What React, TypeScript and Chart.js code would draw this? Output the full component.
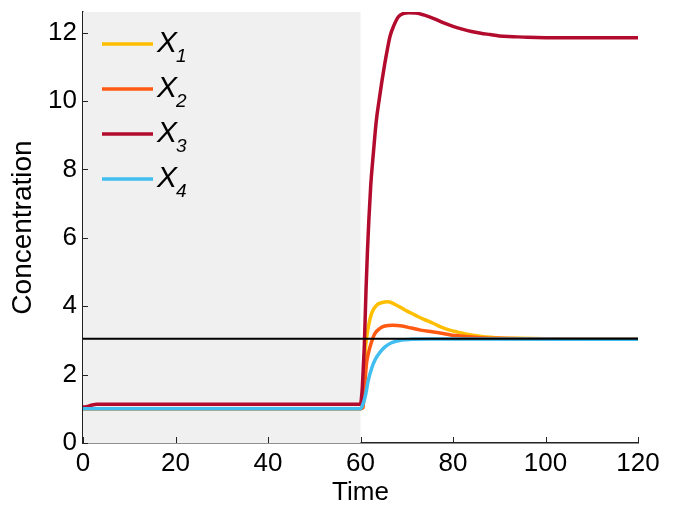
import React, { useEffect, useRef } from 'react';
import { Chart, registerables } from 'chart.js';

Chart.register(...registerables);

// ---- data ----
const xTickValues = [0, 20, 40, 60, 80, 100, 120];
const yTickValues = [0, 2, 4, 6, 8, 10, 12];
const seriesLetters = ['X', 'X', 'X', 'X'];
const seriesSubscripts = ['1', '2', '3', '4'];
const seriesColors = ['#FFBF00', '#FF5A14', '#B30B2D', '#41BDF0'];

const t1 = [0, 60, 60.5, 60.8, 61.1, 61.4, 61.7, 62.4, 63.5, 64.5, 66, 67.5, 69.6, 71.8, 73.6, 75.7, 77.2, 79.3, 81, 82.9, 84.4, 86.5, 88, 90, 94, 100, 120];
const x1 = [1.0, 1.0, 1.03, 1.8, 2.8, 3.15, 3.4, 3.79, 4.03, 4.1, 4.13, 4.05, 3.89, 3.74, 3.62, 3.5, 3.4, 3.3, 3.24, 3.18, 3.15, 3.11, 3.09, 3.07, 3.06, 3.05, 3.04];

const t2 = [0, 60, 60.5, 61, 61.3, 61.7, 62.4, 63.1, 64.2, 65.3, 67, 69, 71, 73, 75.5, 77.5, 79.5, 81.5, 84, 87, 90, 95, 120];
const x2 = [1.0, 1.0, 1.03, 1.84, 2.33, 2.62, 2.96, 3.2, 3.35, 3.42, 3.44, 3.42, 3.36, 3.3, 3.25, 3.21, 3.16, 3.13, 3.1, 3.07, 3.06, 3.05, 3.04];

const t3 = [0, 1, 2, 3, 60, 60.2, 60.4, 60.6, 60.8, 61, 61.2, 61.5, 61.8, 62.2, 62.8, 63.4, 64, 64.6, 65.2, 65.8, 66.4, 67.2, 68.2, 69.2, 70.5, 72, 74, 76, 78, 80, 82, 84, 86, 88, 90, 93, 96, 100, 120];
const x3 = [1.05, 1.07, 1.11, 1.13, 1.13, 1.3, 1.65, 2.2, 2.75, 3.6, 4.5, 5.6, 6.5, 7.5, 8.5, 9.4, 10.0, 10.55, 11.05, 11.5, 11.9, 12.2, 12.46, 12.55, 12.58, 12.57, 12.5, 12.4, 12.28, 12.18, 12.1, 12.03, 11.98, 11.94, 11.9, 11.88, 11.86, 11.85, 11.85];

const t4 = [0, 60, 60.3, 61, 61.7, 62.4, 63.1, 64.2, 65.3, 66.7, 68.9, 71, 75, 120];
const x4 = [1.0, 1.0, 1.06, 1.35, 1.84, 2.18, 2.42, 2.65, 2.81, 2.93, 3.01, 3.03, 3.04, 3.03];

const thresholdTime = [0, 120];
const thresholdValue = [3.05, 3.05];
const shadedUntil = 60;

const seriesTimes = [t1, t2, t3, t4];
const seriesValues = [x1, x2, x3, x4];

const FONT = '"Liberation Sans", Arial, sans-serif';

export default function App() {
  const ref = useRef<HTMLCanvasElement | null>(null);

  useEffect(() => {
    document.body.style.margin = '0';
    const canvas = ref.current;
    if (!canvas) return;

    const shadePlugin = {
      id: 'shade',
      beforeDatasetsDraw(chart: any) {
        const { ctx, chartArea, scales } = chart;
        const xEnd = scales.x.getPixelForValue(shadedUntil);
        ctx.save();
        ctx.fillStyle = '#F0F0F0';
        ctx.fillRect(chartArea.left, chartArea.top, xEnd - chartArea.left, chartArea.bottom - chartArea.top);
        ctx.restore();
      },
    };

    const decorPlugin = {
      id: 'decor',
      afterDraw(chart: any) {
        const { ctx, chartArea, scales } = chart;
        ctx.save();
        ctx.strokeStyle = '#222';
        ctx.lineWidth = 1;
        yTickValues.forEach((v) => {
          const y = Math.round(scales.y.getPixelForValue(v)) + 0.5;
          ctx.beginPath();
          ctx.moveTo(chartArea.left, y);
          ctx.lineTo(chartArea.left + 5, y);
          ctx.stroke();
        });
        xTickValues.forEach((v) => {
          const x = Math.round(scales.x.getPixelForValue(v)) + 0.5;
          ctx.beginPath();
          ctx.moveTo(x, chartArea.bottom);
          ctx.lineTo(x, chartArea.bottom - 6);
          ctx.stroke();
        });
        // legend
        const lx0 = chartArea.left + 19;
        const lx1 = chartArea.left + 70;
        seriesColors.forEach((c, i) => {
          const y = chartArea.top + 32 + i * 45;
          ctx.strokeStyle = c;
          ctx.lineWidth = 3.5;
          ctx.beginPath();
          ctx.moveTo(lx0, y);
          ctx.lineTo(lx1, y);
          ctx.stroke();
          ctx.fillStyle = '#000';
          ctx.textBaseline = 'alphabetic';
          ctx.textAlign = 'left';
          ctx.font = `italic 30px ${FONT}`;
          ctx.fillText(seriesLetters[i], lx1 + 4, y + 8);
          const w = ctx.measureText(seriesLetters[i]).width;
          ctx.font = `italic 19px ${FONT}`;
          ctx.fillText(seriesSubscripts[i], lx1 + 4 + w - 1, y + 18);
        });
        ctx.restore();
      },
    };

    const datasets: any[] = seriesValues.map((vals, i) => ({
      label: seriesLetters[i] + seriesSubscripts[i],
      data: vals.map((v, j) => ({ x: seriesTimes[i][j], y: v })),
      borderColor: seriesColors[i],
      backgroundColor: seriesColors[i],
      borderWidth: 3.5,
      pointRadius: 0,
      cubicInterpolationMode: 'monotone',
      order: 5 - i,
    }));
    datasets.push({
      label: 'threshold',
      data: thresholdValue.map((v, j) => ({ x: thresholdTime[j], y: v })),
      borderColor: '#000',
      borderWidth: 2,
      pointRadius: 0,
      order: 0,
    });

    const chart = new Chart(canvas, {
      type: 'line',
      data: { datasets },
      options: {
        animation: false,
        responsive: false,
        layout: { padding: { top: 12, right: 36, left: 0, bottom: 0 } },
        plugins: { legend: { display: false }, tooltip: { enabled: false } },
        scales: {
          x: {
            type: 'linear',
            min: 0,
            max: 120,
            afterBuildTicks: (s: any) => {
              s.ticks = xTickValues.map((v) => ({ value: v }));
            },
            afterFit: (s: any) => {
              s.height = 72;
              s.paddingLeft = 0;
              s.paddingRight = 0;
            },
            grid: { display: false, drawTicks: false },
            border: { display: true, color: '#222', width: 1.5 },
            ticks: {
              color: '#000',
              font: { family: FONT, size: 26, lineHeight: 1 },
              padding: 8,
              maxRotation: 0,
            },
            title: {
              display: true,
              text: 'Time',
              color: '#000',
              font: { family: FONT, size: 26, lineHeight: 1 },
              padding: { top: 0, bottom: 9 },
            },
          },
          y: {
            type: 'linear',
            min: 0,
            max: 12.6,
            afterBuildTicks: (s: any) => {
              s.ticks = yTickValues.map((v) => ({ value: v }));
            },
            afterFit: (s: any) => {
              s.width = 83;
              s.paddingTop = 0;
              s.paddingBottom = 0;
            },
            grid: { display: false, drawTicks: false },
            border: { display: true, color: '#222', width: 1.5 },
            ticks: {
              color: '#000',
              font: { family: FONT, size: 26, lineHeight: 1 },
              padding: 6,
            },
            title: {
              display: true,
              text: 'Concentration',
              color: '#000',
              font: { family: FONT, size: 28, lineHeight: 1 },
              padding: { top: 9, bottom: 0 },
            },
          },
        },
      },
      plugins: [shadePlugin, decorPlugin],
    });

    return () => chart.destroy();
  }, []);

  return (
    <div style={{ width: 674, height: 515 }}>
      <canvas ref={ref} width={674} height={515} />
    </div>
  );
}
